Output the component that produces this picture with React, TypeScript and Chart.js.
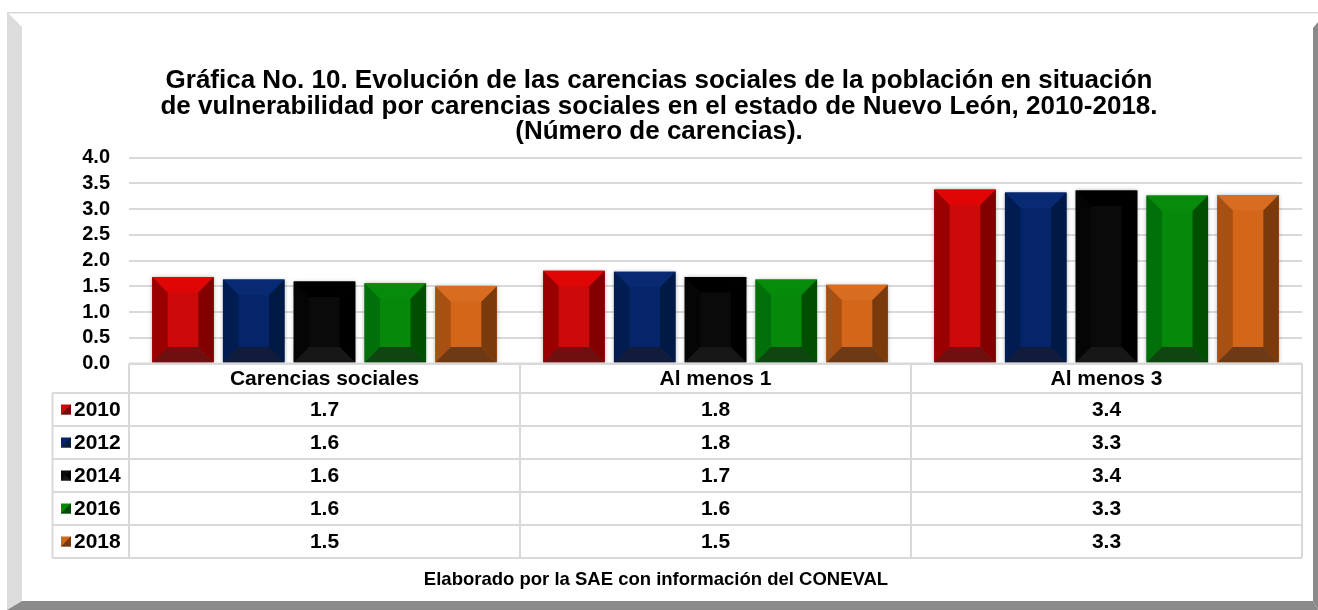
import React, { useEffect, useRef } from "react";
import { Chart, registerables } from "chart.js";

Chart.register(...registerables);

// ---------- data ----------
const categories = ["Carencias sociales", "Al menos 1", "Al menos 3"];
const seriesNames = ["2010", "2012", "2014", "2016", "2018"];
const values2010 = [1.68, 1.8, 3.38];
const values2012 = [1.63, 1.78, 3.32];
const values2014 = [1.59, 1.68, 3.36];
const values2016 = [1.56, 1.63, 3.26];
const values2018 = [1.5, 1.53, 3.27];
const seriesValues = [values2010, values2012, values2014, values2016, values2018];
const yMin = 0;
const yMax = 4;
const yStep = 0.5;
const titleLines = [
  "Gráfica No. 10. Evolución de las carencias sociales de la población en situación",
  "de vulnerabilidad por carencias sociales en el estado de Nuevo León, 2010-2018.",
  "(Número de carencias).",
];
const sourceNote = "Elaborado por la SAE con información del CONEVAL";

// ---------- styles ----------
const faceColors = ["#CC0A0A", "#052469", "#0A0A0A", "#06880A", "#D4661A"];
const topColors = ["#E10606", "#072A72", "#000000", "#068C0A", "#D86C20"];
const leftColors = ["#9B0000", "#001C50", "#050505", "#00700A", "#A84F12"];
const rightColors = ["#820000", "#001A45", "#000000", "#004E00", "#7A3A0B"];
const bottomColors = ["#6E1010", "#101C3A", "#171717", "#0E4510", "#6E3A16"];

const FONT = '"Liberation Sans", Arial, Helvetica, sans-serif';
const W = 1318;
const H = 610;
const GRID = "#d9d9d9";

function poly(ctx: CanvasRenderingContext2D, pts: number[][], color: string) {
  ctx.beginPath();
  ctx.moveTo(pts[0][0], pts[0][1]);
  for (let i = 1; i < pts.length; i++) ctx.lineTo(pts[i][0], pts[i][1]);
  ctx.closePath();
  ctx.fillStyle = color;
  ctx.fill();
}

const framePlugin = {
  id: "frame",
  beforeDraw(chart: any) {
    const ctx = chart.ctx as CanvasRenderingContext2D;
    ctx.save();
    ctx.fillStyle = "#ffffff";
    ctx.fillRect(0, 0, W, H);
    ctx.fillStyle = GRID;
    ctx.fillRect(7, 12, W - 7, 1.5);
    poly(ctx, [[7, 12], [22, 27], [22, 601], [7, 610]], "#dcdcdc");
    poly(ctx, [[1318, 22], [1313, 28], [1313, 601], [1318, 610]], "#8a8a8a");
    poly(ctx, [[7, 610], [22, 601], [1313, 601], [1318, 610]], "#8a8a8a");
    ctx.restore();
  },
};

const shadowPlugin = {
  id: "barShadow",
  beforeDatasetsDraw(chart: any) {
    const ctx = chart.ctx as CanvasRenderingContext2D;
    ctx.save();
    ctx.shadowColor = "rgba(0,0,0,0.28)";
    ctx.shadowBlur = 4;
    ctx.shadowOffsetX = 0;
    ctx.shadowOffsetY = 0;
  },
  afterDatasetsDraw(chart: any) {
    const ctx = chart.ctx as CanvasRenderingContext2D;
    ctx.restore();
    // bevels
    ctx.save();
    chart.data.datasets.forEach((_ds: any, di: number) => {
      const meta = chart.getDatasetMeta(di);
      meta.data.forEach((bar: any) => {
        const p = bar.getProps(["x", "y", "base", "width"], true);
        const L = p.x - p.width / 2;
        const R = p.x + p.width / 2;
        const T = Math.min(p.y, p.base);
        const B = Math.max(p.y, p.base);
        const b = Math.min(15.5, p.width / 2, (B - T) / 2);
        poly(ctx, [[L, T], [R, T], [R - b, T + b], [L + b, T + b]], topColors[di]);
        poly(ctx, [[L, T], [L + b, T + b], [L + b, B - b], [L, B]], leftColors[di]);
        poly(ctx, [[R, T], [R, B], [R - b, B - b], [R - b, T + b]], rightColors[di]);
        poly(ctx, [[L, B], [L + b, B - b], [R - b, B - b], [R, B]], bottomColors[di]);
      });
    });
    ctx.restore();
  },
};

const tablePlugin = {
  id: "dataTable",
  afterDraw(chart: any) {
    const ctx = chart.ctx as CanvasRenderingContext2D;
    const ca = chart.chartArea;
    const xs = chart.scales.x;
    const n = categories.length;
    const cw = (ca.right - ca.left) / n;
    const top = ca.bottom;
    const headerBottom = 393;
    const rowH = 33;
    const legendLeft = 52.5;
    const tableBottom = headerBottom + rowH * seriesNames.length;

    ctx.save();
    ctx.strokeStyle = GRID;
    ctx.lineWidth = 2;
    ctx.beginPath();
    ctx.moveTo(ca.left, top);
    ctx.lineTo(ca.right, top);
    for (let r = 0; r <= seriesNames.length; r++) {
      const y = headerBottom + r * rowH;
      ctx.moveTo(legendLeft, y);
      ctx.lineTo(ca.right, y);
    }
    for (let k = 0; k <= n; k++) {
      const x = ca.left + k * cw;
      ctx.moveTo(x, top);
      ctx.lineTo(x, tableBottom);
    }
    ctx.moveTo(legendLeft, headerBottom);
    ctx.lineTo(legendLeft, tableBottom);
    ctx.stroke();

    ctx.fillStyle = "#000";
    ctx.textBaseline = "middle";
    ctx.textAlign = "center";
    ctx.font = `bold 21px ${FONT}`;
    categories.forEach((c, i) => {
      const cx = xs.getPixelForValue(i);
      ctx.fillText(c, cx, (top + headerBottom) / 2 + 1);
    });
    seriesNames.forEach((name, r) => {
      const cy = headerBottom + r * rowH + rowH / 2 + 1;
      const kx = 61;
      const ks = 10;
      const ky = cy - ks / 2 - 1;
      ctx.fillStyle = faceColors[r];
      ctx.fillRect(kx, ky, ks, ks);
      poly(ctx, [[kx + ks, ky], [kx + ks, ky + ks], [kx, ky + ks]], bottomColors[r]);
      poly(ctx, [[kx + ks, ky], [kx + ks, ky + ks], [kx + ks / 2, ky + ks / 2]], rightColors[r]);
      ctx.fillStyle = "#000";
      ctx.textAlign = "left";
      ctx.fillText(name, 74, cy);
      ctx.textAlign = "center";
      seriesValues[r].forEach((v, i) => {
        ctx.fillText(v.toFixed(1), xs.getPixelForValue(i), cy);
      });
    });

    // title
    ctx.font = `bold 26px ${FONT}`;
    ctx.textAlign = "center";
    ctx.textBaseline = "middle";
    const titleY = [81, 107, 132];
    titleLines.forEach((t, i) => ctx.fillText(t, 659, titleY[i]));

    // source note
    ctx.font = `bold 18.5px ${FONT}`;
    ctx.fillText(sourceNote, 656, 580);
    ctx.restore();
  },
};

export default function App() {
  const ref = useRef<HTMLCanvasElement | null>(null);
  useEffect(() => {
    if (!ref.current) return;
    const chart = new Chart(ref.current, {
      type: "bar",
      data: {
        labels: categories,
        datasets: seriesNames.map((name, i) => ({
          label: name,
          data: seriesValues[i],
          backgroundColor: faceColors[i],
          borderWidth: 0,
          categoryPercentage: 0.905,
          barPercentage: 0.87,
        })),
      },
      options: {
        responsive: false,
        animation: false,
        events: [],
        layout: { padding: { top: 157.5, bottom: H - 363.5, left: 0, right: W - 1302 } },
        plugins: {
          legend: { display: false },
          tooltip: { enabled: false },
          title: { display: false },
        },
        scales: {
          x: { display: false },
          y: {
            min: yMin,
            max: yMax,
            ticks: {
              stepSize: yStep,
              autoSkip: false,
              color: "#000",
              padding: 19,
              font: { family: FONT, size: 20, weight: "bold" },
              callback: (v: any) => Number(v).toFixed(1),
            },
            grid: { color: GRID, lineWidth: 2, drawTicks: false },
            border: { display: false },
            afterFit: (s: any) => {
              s.width = 129;
            },
          },
        },
      },
      plugins: [framePlugin, shadowPlugin, tablePlugin],
    } as any);
    return () => chart.destroy();
  }, []);
  return (
    <div style={{ position: "absolute", left: 0, top: 0, width: W, height: H, background: "#fff" }}>
      <canvas ref={ref} width={W} height={H} style={{ display: "block", width: W, height: H }} />
    </div>
  );
}
